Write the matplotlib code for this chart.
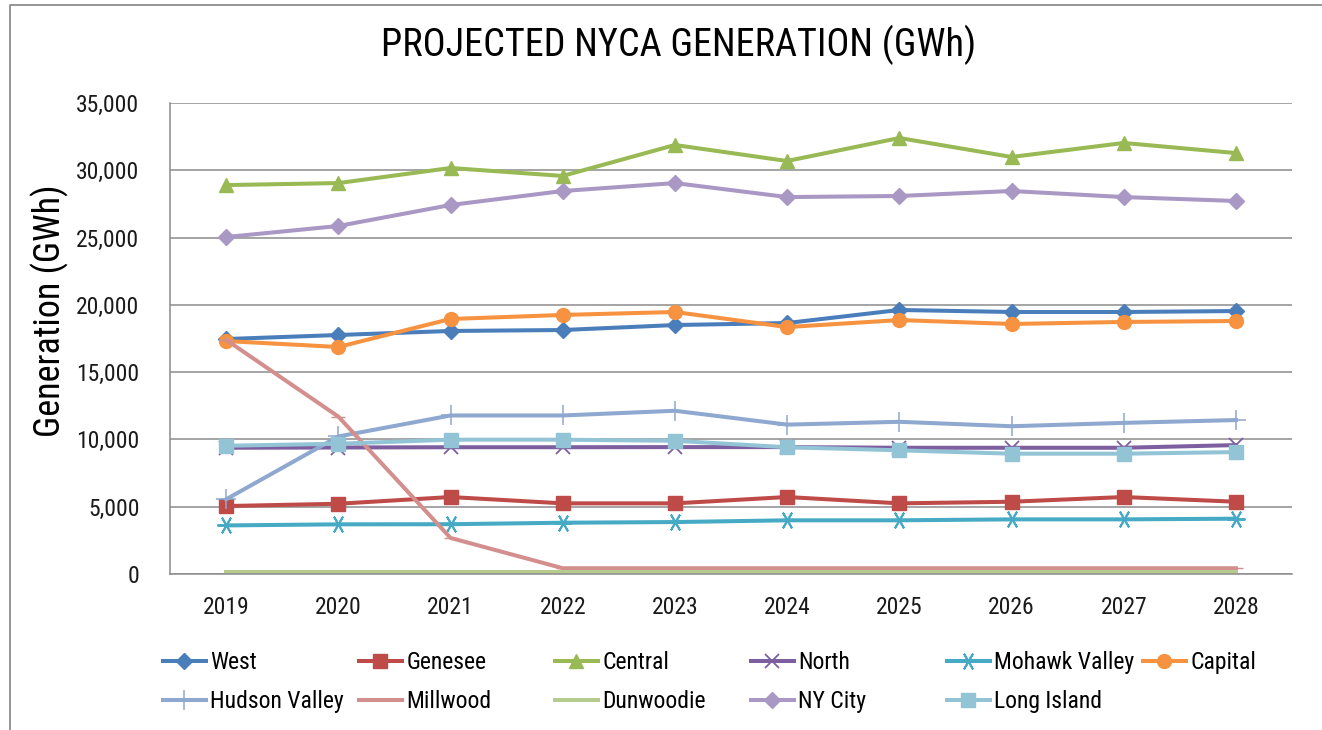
import matplotlib
matplotlib.use('Agg')
import matplotlib.pyplot as plt
from matplotlib.lines import Line2D
from matplotlib.ticker import FuncFormatter, MultipleLocator

plt.rcParams['font.family'] = ['Roboto Condensed', 'DejaVu Sans']

# Data (GWh)
years = ['2019', '2020', '2021', '2022', '2023', '2024', '2025', '2026', '2027', '2028']

west = [17460, 17760, 18060, 18130, 18500, 18650, 19620, 19470, 19470, 19540]
genesee = [5050, 5220, 5720, 5250, 5250, 5720, 5250, 5370, 5720, 5370]
central = [28900, 29050, 30170, 29580, 31880, 30690, 32400, 30990, 32030, 31280]
north = [9380, 9400, 9420, 9420, 9430, 9430, 9380, 9380, 9380, 9580]
mohawk = [3610, 3690, 3700, 3810, 3860, 3990, 3990, 4060, 4060, 4110]
capital = [17310, 16870, 18950, 19250, 19470, 18350, 18870, 18580, 18730, 18800]
hudson = [5550, 10220, 11780, 11780, 12130, 11100, 11310, 10980, 11230, 11440]
millwood = [17400, 11700, 2680, 430, 430, 430, 430, 430, 430, 430]
dunwoodie = [120, 120, 120, 120, 120, 120, 120, 120, 120, 120]
nycity = [25040, 25860, 27420, 28460, 29050, 28010, 28090, 28460, 28010, 27720]
longisland = [9530, 9680, 9980, 9980, 9900, 9420, 9190, 8940, 8940, 9060]

names = ['West', 'Genesee', 'Central', 'North', 'Mohawk Valley', 'Capital',
         'Hudson Valley', 'Millwood', 'Dunwoodie', 'NY City', 'Long Island']
series = [west, genesee, central, north, mohawk, capital,
          hudson, millwood, dunwoodie, nycity, longisland]
colors = ['#4A7EBB', '#BE4B48', '#98B954', '#7D5FA0', '#46AAC5', '#F69240',
          '#8EA8D0', '#D38F8D', '#B5CC8E', '#A997C4', '#93C4D6']
# marker, size, edge width
markers = [('D', 8, 1), ('s', 10, 1), ('^', 10, 1), ('x', 10, 1.3),
           ((6, 2, 90), 13, 1.4), ('o', 10, 1), ('+', 14, 1.1),
           ('_', 10, 1), ('', 0, 0), ('D', 8, 1), ('s', 10, 1)]

W, H = 1322, 730
fig = plt.figure(figsize=(W / 100, H / 100), dpi=100)
ax = fig.add_axes([170 / W, 1 - 574 / H, 1122 / W, 471 / H])

x = list(range(len(years)))
lines = []
for name, vals, col, (m, ms, mew) in zip(names, series, colors, markers):
    ln, = ax.plot(x, vals, color=col, lw=2.9, marker=m, markersize=ms,
                  markeredgewidth=mew, markerfacecolor=col, markeredgecolor=col,
                  label=name, solid_joinstyle='round')
    lines.append(ln)

ax.set_xlim(-0.5, len(years) - 0.5)
ax.set_ylim(0, 35000)
ax.yaxis.set_major_locator(MultipleLocator(5000))
ax.yaxis.set_major_formatter(FuncFormatter(lambda v, p: f'{int(v):,}'))
ax.set_xticks(x)
ax.set_xticklabels(years)
ax.tick_params(axis='both', length=0, labelsize=17, colors='#1a1a1a')
ax.tick_params(axis='y', pad=22)
ax.tick_params(axis='x', pad=16)
ax.grid(axis='y', color='#8c8c8c', lw=1.1)
ax.set_axisbelow(True)
for s in ['top', 'right']:
    ax.spines[s].set_visible(False)
for s in ['left', 'bottom']:
    ax.spines[s].set_color('#8c8c8c')
    ax.spines[s].set_linewidth(1.1)

ax.set_ylabel('Generation (GWh)', fontsize=26)
ax.yaxis.set_label_coords(-0.09, 0.56)

fig.text(679 / W, 1 - 45 / H, 'PROJECTED NYCA GENERATION (GWh)', fontsize=27.5,
         ha='center', va='center')

# legend: six equal columns, two rows
col_x = [163 + 196 * i for i in range(6)]
for c in range(6):
    hs = [lines[c]] + ([lines[c + 6]] if c + 6 < len(lines) else [])
    leg = fig.legend(handles=hs, loc='upper left',
                     bbox_to_anchor=(col_x[c] / W, 1 - 651 / H),
                     frameon=False, fontsize=17, borderpad=0, borderaxespad=0,
                     handlelength=1.8, handletextpad=0.2, labelspacing=0.68)

# outer chart border (left and top edges visible)
fig.add_artist(Line2D([10 / W, 10 / W, 1], [0, 1 - 5 / H, 1 - 5 / H],
                      transform=fig.transFigure, color='#8c8c8c', lw=1.3))

fig.savefig('out.png', dpi=100)
